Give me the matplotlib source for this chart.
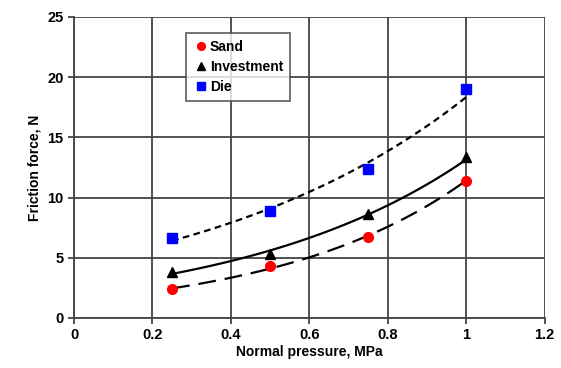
import numpy as np
import matplotlib.pyplot as plt

plt.rcParams['font.family'] = ['Liberation Sans', 'DejaVu Sans']
plt.rcParams['font.weight'] = 'bold'

pressure = np.array([0.25, 0.5, 0.75, 1.0])
sand = np.array([2.4, 4.3, 6.7, 11.4])
investment = np.array([3.8, 5.3, 8.6, 13.4])
die = np.array([6.6, 8.9, 12.4, 19.0])

fig = plt.figure(figsize=(5.61, 3.68), dpi=100)
ax = fig.add_axes([0.132, 0.136, 0.839, 0.818])

xs = np.linspace(0.25, 1.0, 100)


def exp_fit(x, y):
    b, a = np.polyfit(x, np.log(y), 1)
    return np.exp(a) * np.exp(b * xs)


ax.plot(xs, exp_fit(pressure, sand), color='black', lw=1.6, dashes=(8, 4))
ax.plot(xs, exp_fit(pressure, investment), color='black', lw=1.6)
ax.plot(xs, exp_fit(pressure, die), color='black', lw=1.6, dashes=(3, 2))

ax.plot(pressure, sand, 'o', color='red', ms=7, ls='none', label='Sand')
ax.plot(pressure, investment, '^', color='black', ms=7, ls='none', label='Investment')
ax.plot(pressure, die, 's', color='blue', ms=7, ls='none', label='Die')

ax.set_xlim(0, 1.2)
ax.set_ylim(0, 25)
ax.set_xticks([0, 0.2, 0.4, 0.6, 0.8, 1.0, 1.2])
ax.set_xticklabels(['0', '0.2', '0.4', '0.6', '0.8', '1', '1.2'])
ax.set_yticks([0, 5, 10, 15, 20, 25])
ax.grid(True, color='#444444', lw=1.3)
for s in ['top', 'right']:
    ax.spines[s].set_visible(False)
for s in ['left', 'bottom']:
    ax.spines[s].set_color('#444444')
    ax.spines[s].set_linewidth(1.3)
ax.tick_params(labelsize=10.5, length=4, color='#444444', width=1.3)

ax.set_xlabel('Normal pressure, MPa', fontsize=10, fontweight='bold', labelpad=2)
ax.set_ylabel('Friction force, N', fontsize=10, fontweight='bold', labelpad=4)

leg = ax.legend(loc='upper left', bbox_to_anchor=(0.238, 0.947), borderaxespad=0,
                fontsize=10, frameon=True, fancybox=False, edgecolor='#444444',
                handletextpad=0.0, borderpad=0.5, labelspacing=0.45,
                handlelength=1.2, markerscale=0.8)
leg.get_frame().set_linewidth(1.3)

fig.savefig('out.png', dpi=100)
